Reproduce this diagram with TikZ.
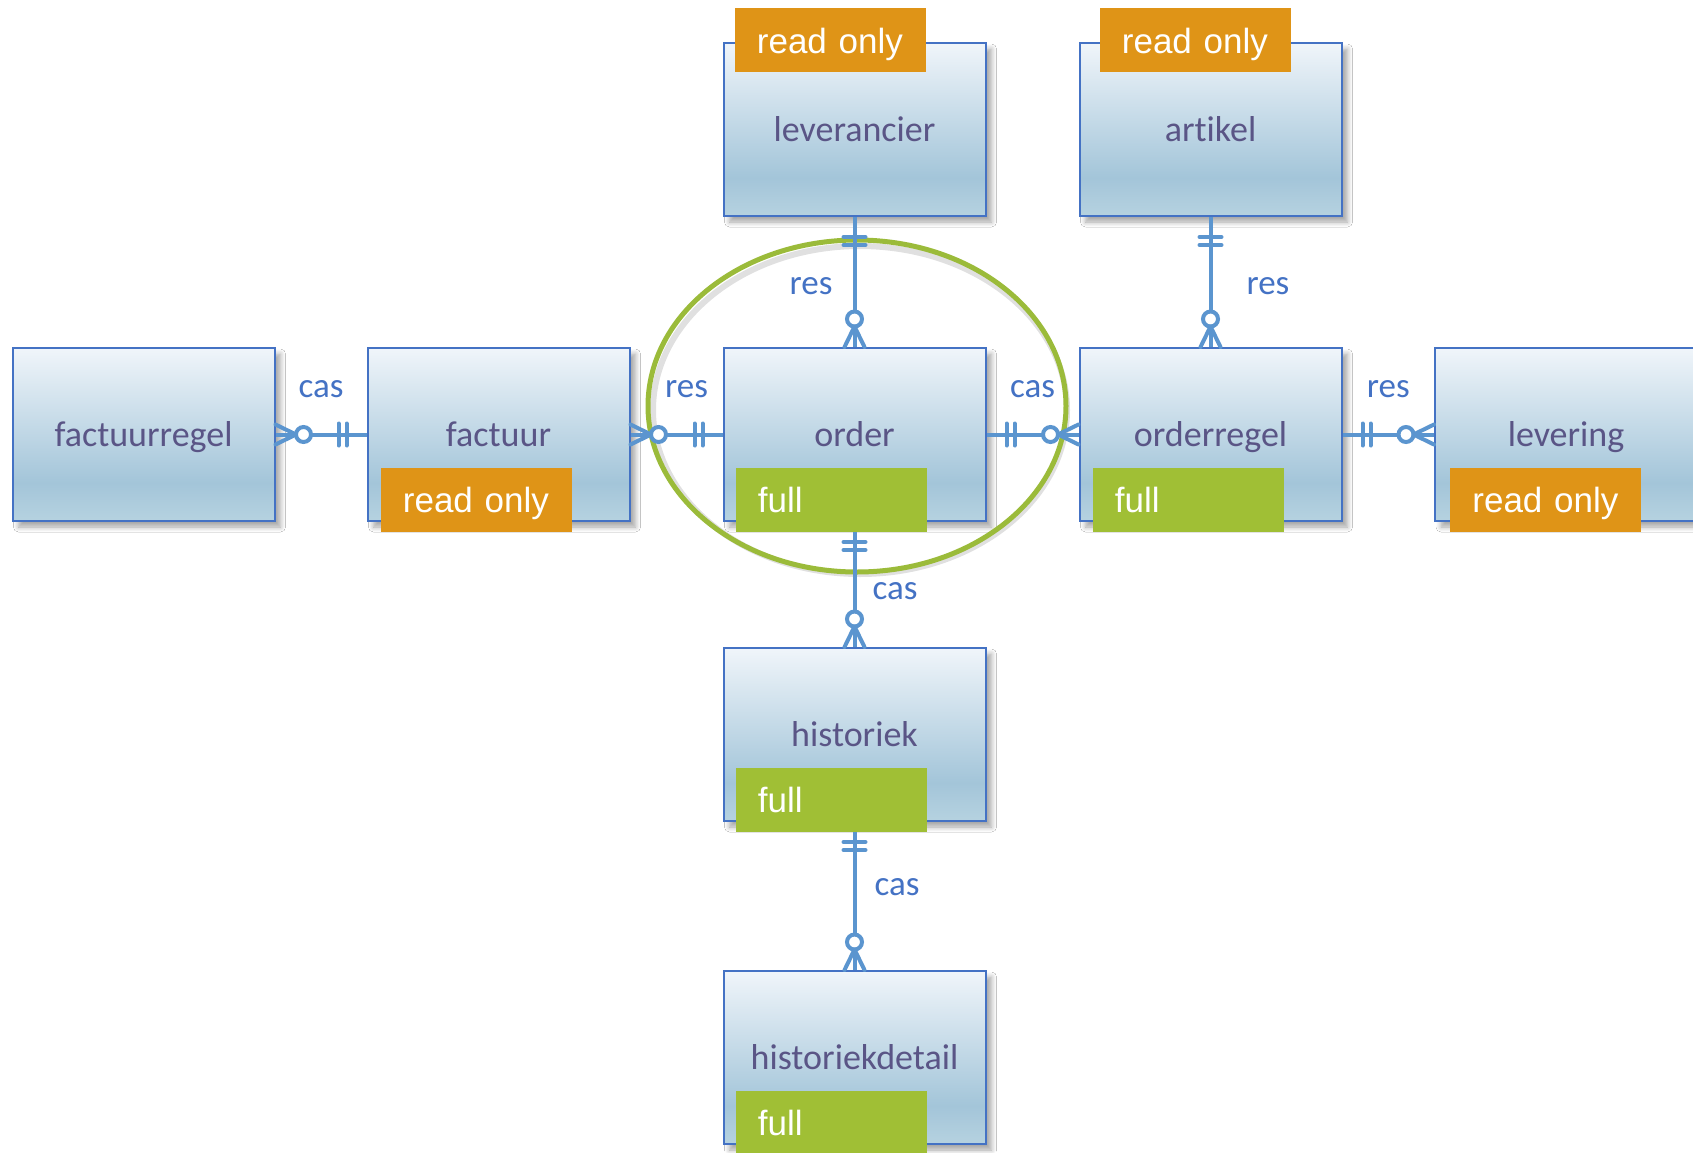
\documentclass[tikz,border=0pt]{standalone}
\usepackage{fontspec}
\setmainfont{Carlito}[Ligatures=NoCommon]
\newfontfamily\badgefont{Liberation Sans}
\usetikzlibrary{shadows.blur,decorations.markings}

\definecolor{boxtop}{HTML}{F0F5FA}
\definecolor{boxmid}{HTML}{A3C5D9}
\definecolor{boxbot}{HTML}{B6D2E0}
\definecolor{boxline}{HTML}{4472C4}
\definecolor{linkblue}{HTML}{5B95CF}
\definecolor{labelblue}{HTML}{4472C4}
\definecolor{entitytext}{HTML}{5A5586}
\definecolor{readorange}{HTML}{DF9417}
\definecolor{fullgreen}{HTML}{A0BF35}
\definecolor{ringgreen}{HTML}{9BBB3A}

\pgfdeclareverticalshading{entityshade}{100bp}{color(0bp)=(boxbot); color(25bp)=(boxbot); color(36bp)=(boxmid); color(75bp)=(boxtop); color(100bp)=(boxtop)}

\tikzset{
  entity/.style={draw=boxline, line width=1pt, shade, shading=entityshade,
    minimum width=131pt, minimum height=86.5pt, inner sep=0pt, text=entitytext,
    font=\fontsize{18}{20}\selectfont, text height=11.5pt, text depth=0pt,
    blur shadow={shadow xshift=3pt, shadow yshift=-3pt, shadow blur radius=2.5pt,
      shadow blur steps=6, shadow opacity=35}},
  badge/.style={text=white, font=\badgefont\fontsize{17.5}{20}\selectfont,
    text width=73.5pt, align=left, inner xsep=11pt, inner ysep=0pt, minimum height=32pt,
    text height=12.7pt, text depth=0pt},
  readonly/.style={badge, fill=readorange},
  fullaccess/.style={badge, fill=fullgreen},
  lbl/.style={text=labelblue, inner sep=0pt, font=\fontsize{17.5}{20}\selectfont},
  erpart/.style={draw=linkblue, line width=2pt, line cap=round},
  % one (two bars) at the start, zero-or-many (circle + crow's foot) at the end
  relation/.style={draw=linkblue, line width=2pt,
    postaction={decorate, decoration={markings,
      mark=at position 10pt with {\draw[erpart] (0pt,-5.5pt) -- (0pt,5.5pt);},
      mark=at position 14pt with {\draw[erpart] (0pt,-5.5pt) -- (0pt,5.5pt);},
      mark=at position -14pt with {\draw[erpart, fill=white] (0pt,0pt) circle (3.75pt);},
      mark=at position -10.25pt with {\draw[erpart] (0pt,0pt) -- (10.25pt,5pt) (0pt,0pt) -- (10.25pt,-5pt);}}}}
}

\begin{document}
\begin{tikzpicture}[x=0.5pt, y=-0.5pt]
  \useasboundingbox[fill=white] (0,0) rectangle (1693,1152);

  % Entities
  \node[entity] (factuurregel) at (143.5,434.5) {factuurregel};
  \node[entity] (factuur) at (498.5,434.5) {factuur};
  \node[entity] (order) at (854.5,434.5) {order};
  \node[entity] (orderregel) at (1210.5,434.5) {orderregel};
  \node[entity] (levering) at (1566,434.5) {levering};
  \node[entity] (leverancier) at (854.5,129.5) {leverancier};
  \node[entity] (artikel) at (1210.5,129.5) {artikel};
  \node[entity] (historiek) at (854.5,734.5) {historiek};
  \node[entity] (historiekdetail) at (854.5,1057.5) {historiekdetail};

  % Highlight round order
  \draw[black, opacity=0.12, line width=3pt] (860,410) ellipse [x radius=207, y radius=164];
  \draw[ringgreen, line width=2.5pt] (857,406) ellipse [x radius=209, y radius=166];

  % Relations
  \draw[relation] (factuur) -- (factuurregel) node[lbl, midway, above=17.5pt] (lblfr) {cas};
  \draw[relation] (order) -- (factuur) node[lbl, midway, above=17.5pt, xshift=5pt] (lblfa) {res};
  \draw[relation] (order) -- (orderregel) node[lbl, midway, above=17.5pt] (lblor) {cas};
  \draw[relation] (orderregel) -- (levering) node[lbl, midway, above=17.5pt] (lbllv) {res};
  \draw[relation] (leverancier) -- (order) node[lbl, pos=0.53, left=10pt] (lblla) {res};
  \draw[relation] (artikel) -- (orderregel) node[lbl, pos=0.53, right=17pt] (lblar) {res};
  \draw[relation] (order) -- (historiek) node[lbl, pos=0.55, right=8pt] (lblhi) {cas};
  \draw[relation] (historiek) -- (historiekdetail) node[lbl, pos=0.44, right=9pt] (lblhd) {cas};

  % Access badges
  \node[readonly, anchor=north west] (leverancieracc) at ([xshift=6pt,yshift=17pt]leverancier.north west) {read only};
  \node[readonly, anchor=north west] (artikelacc) at ([xshift=10.5pt,yshift=17pt]artikel.north west) {read only};
  \node[readonly, anchor=south west] (factuuracc) at ([xshift=7pt,yshift=-5pt]factuur.south west) {read only};
  \node[fullaccess, anchor=south west] (orderacc) at ([xshift=6.5pt,yshift=-5pt]order.south west) {full};
  \node[fullaccess, anchor=south west] (orderregelacc) at ([xshift=7pt,yshift=-5pt]orderregel.south west) {full};
  \node[readonly, anchor=south west] (leveringacc) at ([xshift=8pt,yshift=-5pt]levering.south west) {read only};
  \node[fullaccess, anchor=south west] (historiekacc) at ([xshift=6.5pt,yshift=-5pt]historiek.south west) {full};
  \node[fullaccess, anchor=south west] (historiekdetailacc) at ([xshift=6.5pt,yshift=-5pt]historiekdetail.south west) {full};
\end{tikzpicture}
\end{document}
